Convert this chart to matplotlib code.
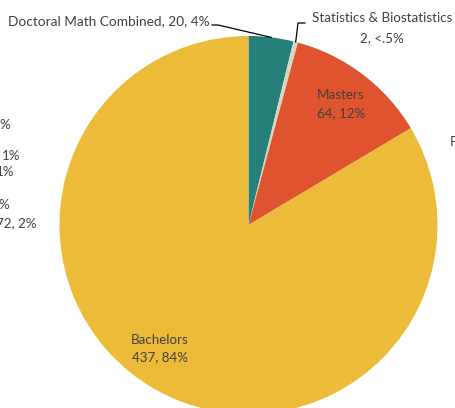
import matplotlib.pyplot as plt
import numpy as np

# degree counts
categories = ["Doctoral Math Combined", "Statistics & Biostatistics", "Masters", "Bachelors"]
counts = [20, 2, 64, 437]
pct_labels = ["4%", "<.5%", "12%", "84%"]
colors = ["#267f7a", "#d5d9c2", "#df542e", "#edbb3a"]

txt_color = "#404040"
plt.rcParams['font.family'] = ['Lato', 'DejaVu Sans']

W, H = 456, 408
fig = plt.figure(figsize=(W / 100, H / 100), dpi=100)
ax = fig.add_axes([0, 0, 1, 1])

cx, cy, r = 248.5, H - 225, 189
wedges, _ = ax.pie(counts, colors=colors, startangle=90, counterclock=False,
                   center=(cx, cy), radius=r, frame=True,
                   wedgeprops=dict(linewidth=0))
ax.set_xlim(0, W)
ax.set_ylim(0, H)
ax.set_aspect('equal')
ax.axis('off')


def edge_point(w):
    a = np.deg2rad((w.theta1 + w.theta2) / 2)
    return cx + r * np.cos(a), cy + r * np.sin(a)


fs = 9.6
# Doctoral label with leader line
ex, ey = edge_point(wedges[0])
ax.text(210, H - 21, f"{categories[0]}, {counts[0]}, {pct_labels[0]}", ha='right', va='center',
        fontsize=9.8, color=txt_color)
ax.plot([212, 218, ex], [H - 25, H - 25, ey], color='black', lw=0.9)

# Statistics label with leader line
ex, ey = edge_point(wedges[1])
ax.text(382, H - 18, categories[1], ha='center', va='center', fontsize=fs, color=txt_color)
ax.text(382, H - 38, f"{counts[1]}, {pct_labels[1]}", ha='center', va='center', fontsize=fs, color=txt_color)
ax.plot([305, 298, ex], [H - 23, H - 23, ey], color='black', lw=0.9)

# inside labels
ax.text(341, H - 95, categories[2], ha='center', va='center', fontsize=fs, color=txt_color)
ax.text(341, H - 113, f"{counts[2]}, {pct_labels[2]}", ha='center', va='center', fontsize=fs, color=txt_color)
ax.text(160, H - 340, categories[3], ha='center', va='center', fontsize=fs, color=txt_color)
ax.text(160, H - 357, f"{counts[3]}, {pct_labels[3]}", ha='center', va='center', fontsize=fs, color=txt_color)

# fragments of neighbouring chart cut off at the edges
ax.text(10, H - 125, "%", ha='right', va='center', fontsize=fs, color=txt_color, clip_on=False)
ax.text(20, H - 156, "1%", ha='right', va='center', fontsize=fs, color=txt_color, clip_on=False)
ax.text(14, H - 172, "1%", ha='right', va='center', fontsize=fs, color=txt_color, clip_on=False)
ax.text(9, H - 205, "%", ha='right', va='center', fontsize=fs, color=txt_color, clip_on=False)
ax.text(37, H - 223, "72, 2%", ha='right', va='center', fontsize=fs, color=txt_color, clip_on=False)
ax.text(450, H - 142, "P", ha='left', va='center', fontsize=fs, color=txt_color, clip_on=False)

fig.savefig("out.png", dpi=100)
